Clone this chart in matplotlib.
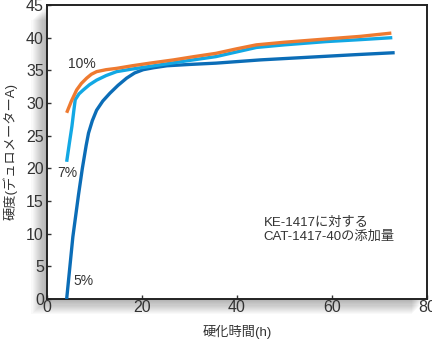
import matplotlib
matplotlib.use("Agg")
import matplotlib.pyplot as plt
from matplotlib.patches import Rectangle

plt.rcParams['font.family'] = ['Liberation Sans', 'Noto Sans CJK JP', 'DejaVu Sans']

x5 = [4.2, 5.5, 6.7, 7.5, 8.3, 8.8, 9.6, 10.5, 11.8, 13.3, 15.0, 16.8, 18.5, 20.3, 22.5, 25.3, 30.0, 35.6, 45.0, 55.0, 65.0, 73.2]
y5 = [0.0, 9.5, 16.0, 20.0, 23.5, 25.4, 27.3, 28.9, 30.3, 31.5, 32.7, 33.8, 34.6, 35.1, 35.4, 35.7, 35.9, 36.1, 36.6, 37.0, 37.4, 37.7]

x7 = [4.2, 4.8, 5.3, 5.7, 6.0, 6.8, 7.7, 9.0, 10.5, 12.5, 14.7, 18.0, 21.7, 28.0, 35.6, 44.1, 50.0, 58.8, 66.0, 72.7]
y7 = [21.0, 24.0, 26.4, 28.8, 30.5, 31.4, 32.0, 32.8, 33.5, 34.2, 34.8, 35.2, 35.6, 36.3, 37.1, 38.5, 38.9, 39.4, 39.7, 40.0]

x10 = [4.2, 5.2, 6.3, 7.3, 8.4, 9.4, 10.5, 12.5, 14.7, 18.0, 21.7, 26.7, 31.0, 35.6, 40.0, 44.1, 50.0, 58.8, 66.0, 72.5]
y10 = [28.5, 30.3, 32.0, 33.0, 33.8, 34.4, 34.8, 35.1, 35.3, 35.7, 36.1, 36.6, 37.1, 37.6, 38.3, 38.9, 39.3, 39.8, 40.2, 40.7]

labels = ["5%", "7%", "10%"]
xticks = [0, 20, 40, 60, 80]
yticks = [0, 5, 10, 15, 20, 25, 30, 35, 40, 45]

W, H = 432, 341
fig = plt.figure(figsize=(W / 100, H / 100), dpi=100)
L, B, R, T = 46.7, 299, 427, 5
ax = fig.add_axes([L / W, 1 - B / H, (R - L) / W, (B - T) / H])
ax.set_zorder(2)

# soft shadow
for i in range(14):
    off = i * 1.1
    fig.patches.append(Rectangle(((L - 1 - off) / W, 1 - (B + 1 + off) / H),
                                 (R - L) / W, (B - T) / H,
                                 transform=fig.transFigure, facecolor='#000000',
                                 alpha=0.022, edgecolor='none', zorder=0))

tc = '#333333'
ax.plot(x5, y5, color='#0B6DB7', lw=2.4, solid_capstyle='butt', zorder=3)
ax.plot(x7, y7, color='#12A8E4', lw=2.4, solid_capstyle='butt', zorder=4)
ax.plot(x10, y10, color='#EE7A30', lw=2.4, solid_capstyle='butt', zorder=5)

ax.text(5.6, 2.8, labels[0], fontsize=10, color=tc, va='center', ha='left')
ax.text(2.3, 19.3, labels[1], fontsize=10, color=tc, va='center', ha='left')
ax.text(4.5, 35.9, labels[2], fontsize=10, color=tc, va='center', ha='left')
ax.text(45.6, 10.6, "KE-1417に対する\nCAT-1417-40の添加量", fontsize=9.5, color=tc,
        va='center', ha='left', linespacing=1.2)

ax.set_xlim(0, 80)
ax.set_ylim(0, 45)
ax.set_xticks(xticks)
ax.set_yticks(yticks)
ax.tick_params(direction='in', length=3, width=1, colors=tc, labelsize=11.5, pad=2)
ax.tick_params(axis='x', pad=1)
for s in ax.spines.values():
    s.set_color('#222222')
    s.set_linewidth(1.4)
ax.set_xlabel("硬化時間(h)", fontsize=9.5, color=tc, labelpad=7)
ax.set_ylabel("硬度(デュロメーターA)", fontsize=9.5, color=tc, labelpad=6)

fig.savefig("out.png", dpi=100)
